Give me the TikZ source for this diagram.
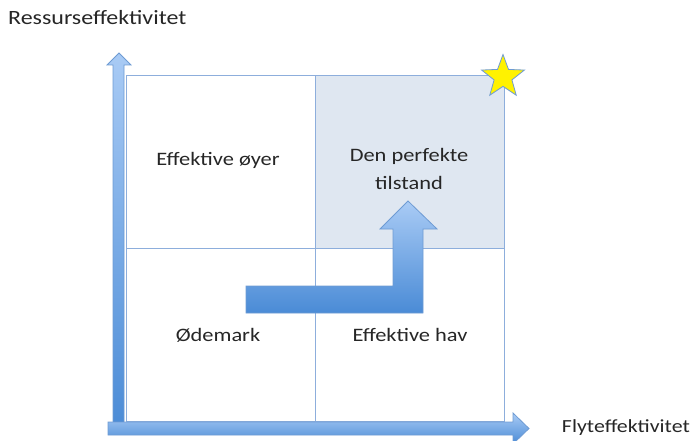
\documentclass[tikz,border=0pt]{standalone}
\usepackage{fontspec}
\setmainfont{Carlito}
\newfontfamily\wfont[FakeStretch=1.18]{Carlito}
\usetikzlibrary{shapes.geometric}
\definecolor{gridc}{HTML}{8DAEDC}
\definecolor{cellfill}{HTML}{DFE7F1}
\definecolor{arrtop}{HTML}{A9CBF5}
\definecolor{arrbot}{HTML}{4A8BD6}
\definecolor{arredge}{HTML}{6E9BD3}
\tikzset{
  cell/.style={draw=gridc, line width=1.2pt, minimum width=189pt, minimum height=173pt, inner sep=0pt, anchor=north west},
  lbl/.style={font=\wfont\fontsize{19}{28}\selectfont, text=black!85, align=center},
  axlbl/.style={font=\wfont\fontsize{20.3}{22}\selectfont, text=black!85, inner sep=0pt},
  fatarrow/.style={draw=arredge, line width=0.8pt, top color=arrtop, bottom color=arrbot},
}
\begin{document}
\begin{tikzpicture}[x=1pt,y=-1pt]
\useasboundingbox (0,0) rectangle (693,441);
% grid cells
\node[cell] (tl) at (126,75) {};
\node[cell, fill=cellfill] (tr) at (315,75) {};
\node[cell] (bl) at (126,248) {};
\node[cell] (br) at (315,248) {};
% labels
\node[lbl] (ty) at (218,160) {Effektive øyer};
\node[lbl] (tp) at (409,169) {Den perfekte\\tilstand};
\node[lbl] (od) at (218,335) {Ødemark};
\node[lbl] (eh) at (410,335) {Effektive hav};
% vertical axis
\path[fatarrow] (113,430) -- (113,65) -- (107,65) -- (119,53) -- (131,65) -- (124,65) -- (124,430) -- cycle;
% horizontal axis
\path[fatarrow] (108,422) -- (513,422) -- (513,413) -- (529,428.5) -- (513,444) -- (513,435) -- (108,435) -- cycle;
% bent arrow
\path[fatarrow] (246,286) -- (393,286) -- (393,229) -- (380,229) -- (408,201) -- (437,229) -- (423,229) -- (423,313) -- (246,313) -- cycle;
% star
\node[star, star points=5, star point ratio=2.4, minimum size=45pt, inner sep=0pt, draw=arredge, line width=0.8pt, fill=yellow] (st) at (503,77) {};
% axis labels
\node[axlbl, anchor=west] (ylab) at (8,18) {Ressurseffektivitet};
\node[axlbl, anchor=east, font=\wfont\fontsize{18.5}{20}\selectfont] (xlab) at (690,428) {Flyteffektivitet};
\end{tikzpicture}
\end{document}
